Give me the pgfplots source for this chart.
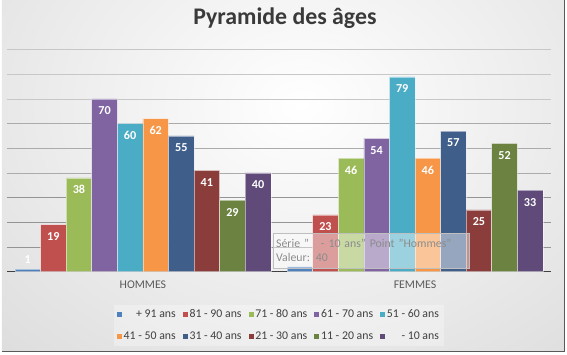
\documentclass[border=0pt]{standalone}
\usepackage{fontspec}
\setmainfont{Carlito}
\usepackage{pgfplots}
\pgfplotsset{compat=1.18}
\definecolor{c1}{HTML}{4F81BD}
\definecolor{c2}{HTML}{C0504D}
\definecolor{c3}{HTML}{9BBB59}
\definecolor{c4}{HTML}{8064A2}
\definecolor{c5}{HTML}{4BACC6}
\definecolor{c6}{HTML}{F79646}
\definecolor{c7}{HTML}{3F5E8A}
\definecolor{c8}{HTML}{8B3D3B}
\definecolor{c9}{HTML}{6B8240}
\definecolor{c10}{HTML}{5F4A79}
\definecolor{titlec}{HTML}{3A3A3A}
\definecolor{txt}{HTML}{404040}
\pgfplotsset{/pgfplots/ybar legend/.style={/pgfplots/legend image code/.code={\fill[##1,draw=none,fill opacity=1] (0pt,-2.5pt) rectangle (5pt,2.5pt);}}}
\newcommand{\lgd}[1]{\makebox[52pt][r]{#1}}
\begin{document}
\begin{tikzpicture}[x=1pt,y=1pt]
\fill[white] (0,0) rectangle (567,355);
\begin{scope}
\clip (0,3) rectangle (564,355);
\shade[inner color=white, outer color=black!27] (-600,-450) rectangle (1200,950);
\end{scope}
\draw[black!65, line width=1pt] (564,355) -- (564,3) -- (0,3);
\node[font=\bfseries\fontsize{23.9}{28}\selectfont, text=titlec, anchor=base] at (284,331) {Pyramide des âges};
\begin{axis}[
  at={(5pt,83pt)}, anchor=south west, scale only axis,
  width=546pt, height=222.7pt,
  ymin=0, ymax=90, xmin=-0.5, xmax=1.5,
  ybar=0pt, bar width=0.094,
  axis x line*=bottom, axis y line*=left,
  y axis line style={draw=none},
  x axis line style={draw=black!75, line width=1.6pt},
  xtick={0,1}, xticklabels={HOMMES,FEMMES},
  x tick label style={font=\fontsize{11.85}{14}\selectfont, text=black!65, anchor=base, yshift=-17pt},
  major tick length=0pt, minor tick length=0pt, tick style={draw=none},
  ytick={10,20,30}, yticklabels={},
  minor ytick={40,50,60},
  extra y ticks={70,80,90}, extra y tick labels={},
  ymajorgrids, yminorgrids,
  major grid style={draw=black!42, line width=0.8pt},
  minor grid style={draw=black!33, line width=0.8pt},
  extra y tick style={major grid style={draw=black!22, line width=0.8pt}},
  clip=false,
  /pgf/number format/assume math mode=true,
  nodes near coords,
  visualization depends on={y \as \rawy},
  every node near coord/.append style={font=\bfseries\fontsize{12.2}{14}\selectfont, text=white, anchor=center, yshift={(max(\rawy-4.85,4.85)-\rawy)*2.474}},
  every axis plot/.append style={draw=white, draw opacity=0.5, line width=0.5pt},
  legend columns=5,
  legend style={at={(axis description cs:0.5,0)}, anchor=center, yshift=-54pt, draw=none, fill=white, fill opacity=0.3, text opacity=1, font=\fontsize{11.85}{14}\selectfont, text=txt, row sep=9pt, inner sep=3pt, /tikz/every even column/.append style={column sep=5pt}},
]
\addplot[fill=c1] coordinates {(0,1) (1,2)};
\addplot[fill=c2] coordinates {(0,19) (1,23)};
\addplot[fill=c3] coordinates {(0,38) (1,46)};
\addplot[fill=c4] coordinates {(0,70) (1,54)};
\addplot[fill=c5] coordinates {(0,60) (1,79)};
\addplot[fill=c6] coordinates {(0,62) (1,46)};
\addplot[fill=c7] coordinates {(0,55) (1,57)};
\addplot[fill=c8] coordinates {(0,41) (1,25)};
\addplot[fill=c9] coordinates {(0,29) (1,52)};
\addplot[fill=c10] coordinates {(0,40) (1,33)};
\legend{\lgd{+ 91 ans},\lgd{81 - 90 ans},\lgd{71 - 80 ans},\lgd{61 - 70 ans},\lgd{51 - 60 ans},\lgd{41 - 50 ans},\lgd{31 - 40 ans},\lgd{21 - 30 ans},\lgd{11 - 20 ans},\lgd{- 10 ans}}
\end{axis}
\node[anchor=north west, fill=white, fill opacity=0.45, text opacity=1, draw=black!25, text=black!45, font=\fontsize{11.85}{15}\selectfont, align=left, inner sep=3pt, text width=191pt, minimum height=35pt] at (272,122) {Série "\hspace{12pt}- 10 ans" Point "Hommes"\\Valeur: 40};
\end{tikzpicture}
\end{document}
